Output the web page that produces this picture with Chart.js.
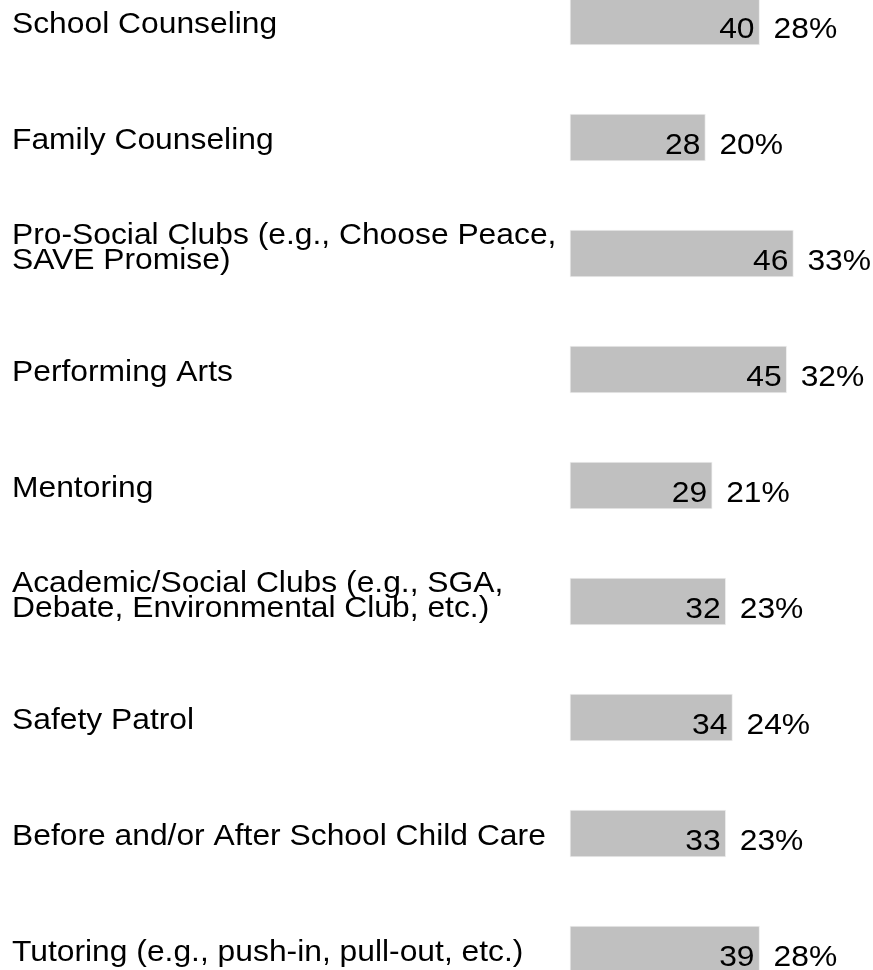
<!DOCTYPE html>
<html>
<head>
<meta charset="utf-8">
<script src="https://cdn.jsdelivr.net/npm/chart.js@4"></script>
<style>
  html, body { margin: 0; padding: 0; background: #fff; }
  #wrap { width: 873px; height: 970px; position: relative; }
</style>
</head>
<body>
<div id="wrap"><canvas id="chart"></canvas></div>
<script>
const categories = [
  ["School Counseling"],
  ["Family Counseling"],
  ["Pro-Social Clubs (e.g., Choose Peace,", "SAVE Promise)"],
  ["Performing Arts"],
  ["Mentoring"],
  ["Academic/Social Clubs (e.g., SGA,", "Debate, Environmental Club, etc.)"],
  ["Safety Patrol"],
  ["Before and/or After School Child Care"],
  ["Tutoring (e.g., push-in, pull-out, etc.)"]
];
const counts = [40, 28, 46, 45, 29, 32, 34, 33, 39];
const percents = [28, 20, 33, 32, 21, 23, 24, 23, 28];

const FONT = '30px "Liberation Sans", Arial, sans-serif';
const STRETCH = 1.06;

function drawText(ctx, text, x, y, align) {
  ctx.save();
  ctx.translate(x, y);
  ctx.scale(STRETCH, 1);
  ctx.textAlign = align;
  ctx.fillText(text, 0, 0);
  ctx.restore();
}

// labels, counts and percentages placed from the bar elements
const barText = {
  id: 'barText',
  afterDatasetsDraw(chart) {
    const ctx = chart.ctx;
    const meta = chart.getDatasetMeta(0);
    ctx.save();
    ctx.font = FONT;
    ctx.fillStyle = '#000';
    ctx.textBaseline = 'alphabetic';
    meta.data.forEach((bar, i) => {
      const y = bar.y;
      const lines = categories[i];
      if (lines.length == 1) {
        drawText(ctx, lines[0], 12, y + 11.5, 'left');
      } else {
        drawText(ctx, lines[0], 12, y - 10, 'left');
        drawText(ctx, lines[1], 12, y + 15.5, 'left');
      }
      drawText(ctx, String(counts[i]), bar.x - 5, y + 16.5, 'right');
      drawText(ctx, percents[i] + '%', bar.x + 14, y + 16.5, 'left');
    });
    ctx.restore();
  }
};

const ctx = document.getElementById('chart').getContext('2d');
let chart = new Chart(ctx, {
  type: 'bar',
  data: {
    labels: categories,
    datasets: [{
      data: percents,
      backgroundColor: '#c0c0c0',
      borderColor: '#ededed',
      borderWidth: 1,
      borderSkipped: false,
      barThickness: 47,
      clip: false
    }]
  },
  options: {
    indexAxis: 'y',
    responsive: true,
    maintainAspectRatio: false,
    animation: false,
    layout: { padding: { left: 570, right: 32.2, top: 21.5, bottom: 20.5 } },
    scales: {
      x: { min: 0, max: 40, display: false },
      y: { type: 'category', offset: false, display: false }
    },
    plugins: {
      legend: { display: false },
      tooltip: { enabled: false }
    }
  },
  plugins: [barText]
});
</script>
</body>
</html>
